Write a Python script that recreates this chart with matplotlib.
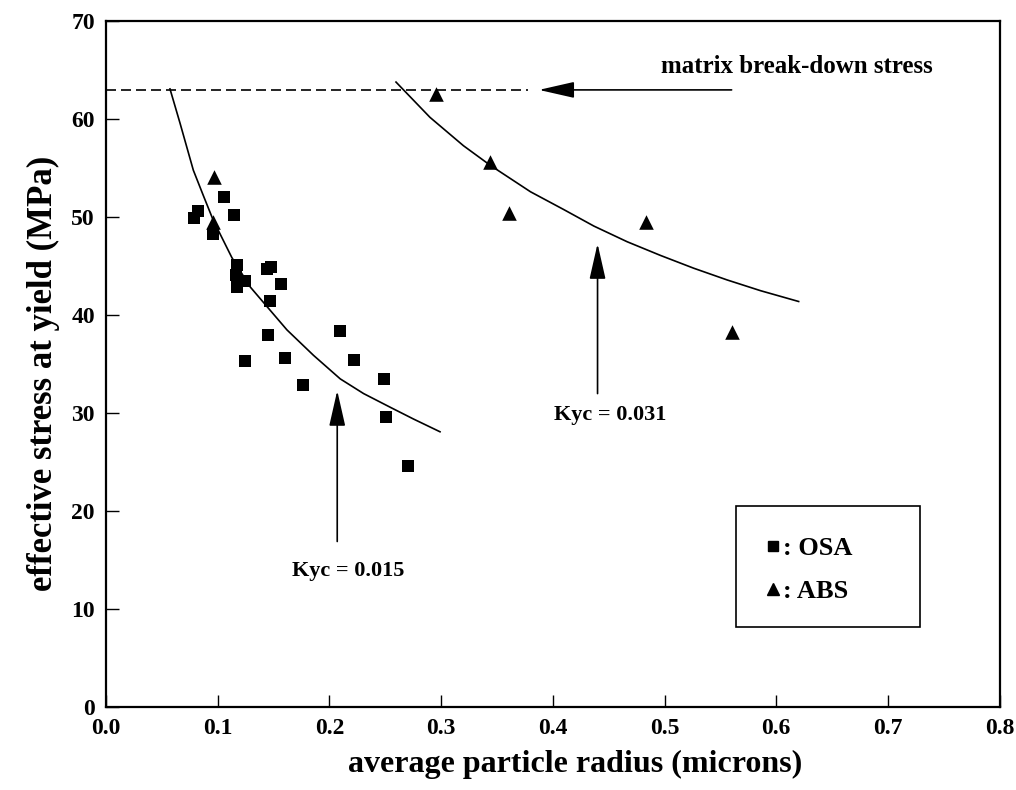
"""Effective yield stress against average rubber particle radius for OSA and ABS blends."""

import matplotlib

matplotlib.use("Agg")
import matplotlib.pyplot as plt
from matplotlib.lines import Line2D
from matplotlib.patches import Rectangle

plt.rcParams["font.family"] = ["Liberation Serif", "DejaVu Serif"]
plt.rcParams["font.weight"] = "bold"
plt.rcParams["axes.labelweight"] = "bold"

# OSA blends (square markers)
osa_radius = [0.1057, 0.1147, 0.079, 0.0824, 0.0956, 0.117, 0.117, 0.124, 0.1165,
              0.144, 0.1475, 0.1568, 0.147, 0.1446, 0.124, 0.1598, 0.1768,
              0.2097, 0.2222, 0.2485, 0.2505, 0.2703]
osa_stress = [52.1, 50.2, 49.9, 50.6, 48.3, 45.1, 42.9, 43.5, 44.1,
              44.7, 44.9, 43.2, 41.5, 38.0, 35.3, 35.6, 32.9,
              38.4, 35.4, 33.5, 29.6, 24.6]

# ABS blends (triangle markers)
abs_radius = [0.097, 0.096, 0.295, 0.344, 0.3605, 0.483, 0.5607]
abs_stress = [54.1, 49.5, 62.6, 55.6, 50.4, 49.5, 38.3]

# theoretical curves for the two craze toughness values
kyc_low = 0.015
curve_low_radius = [0.0573, 0.0663, 0.0782, 0.0872, 0.096, 0.1126, 0.129, 0.147,
                    0.162, 0.1858, 0.2097, 0.2306, 0.2545, 0.2753, 0.299]
curve_low_stress = [63.1, 59.6, 54.8, 52.2, 49.7, 45.9, 42.9, 40.5,
                    38.5, 35.9, 33.5, 32.0, 30.6, 29.4, 28.1]

kyc_high = 0.031
curve_high_radius = [0.2596, 0.290, 0.320, 0.344, 0.380, 0.4095, 0.4367, 0.4665,
                     0.4964, 0.526, 0.556, 0.586, 0.620]
curve_high_stress = [63.8, 60.2, 57.3, 55.3, 52.6, 50.8, 49.1, 47.5,
                     46.1, 44.8, 43.6, 42.5, 41.4]

matrix_breakdown = 63.0

x_ticks = [0.0, 0.1, 0.2, 0.3, 0.4, 0.5, 0.6, 0.7, 0.8]
y_ticks = [0, 10, 20, 30, 40, 50, 60, 70]


def main() -> None:
    fig = plt.figure(figsize=(10.16, 7.9), dpi=100)
    ax = fig.add_axes([0.1043, 0.105, 0.8797, 0.868])

    ax.plot(curve_low_radius, curve_low_stress, color="black", lw=1.2)
    ax.plot(curve_high_radius, curve_high_stress, color="black", lw=1.2)

    ax.scatter(osa_radius, osa_stress, marker="s", s=85, color="black", linewidths=0)
    ax.scatter(abs_radius, abs_stress, marker="^", s=110, color="black", linewidths=0)

    # matrix break-down stress level and its label arrow
    ax.hlines(matrix_breakdown, 0.0, 0.378, colors="black", lw=1.2, linestyles=(0, (6, 3)))
    arrow_kw = dict(arrowstyle="-|>,head_length=1.1,head_width=0.25",
                    color="black", lw=1.2, mutation_scale=20, shrinkA=0, shrinkB=0)
    ax.annotate("", xy=(0.3875, matrix_breakdown), xytext=(0.560, matrix_breakdown),
                arrowprops=arrow_kw)
    ax.text(0.618, 65.4, "matrix break-down stress", ha="center", va="center", fontsize=18)

    ax.annotate("", xy=(0.207, 32.3), xytext=(0.207, 16.9), arrowprops=arrow_kw)
    ax.text(0.217, 13.9, f"Kyc = {kyc_low}", ha="center", va="center", fontsize=16)

    ax.annotate("", xy=(0.440, 47.3), xytext=(0.440, 32.0), arrowprops=arrow_kw)
    ax.text(0.451, 29.8, f"Kyc = {kyc_high}", ha="center", va="center", fontsize=16)

    # legend with a plain rectangular frame
    ax.add_patch(Rectangle((0.5636, 8.2), 0.1653, 12.3, fill=False,
                           edgecolor="black", lw=1.2))
    handles = [
        Line2D([], [], marker="s", ls="none", color="black", markersize=7),
        Line2D([], [], marker="^", ls="none", color="black", markersize=8),
    ]
    ax.legend(handles, [": OSA", ": ABS"], loc="center left",
              bbox_to_anchor=(0.569, 14.0), bbox_transform=ax.transData,
              frameon=False, handlelength=0.6, handletextpad=0.05,
              labelspacing=0.75, prop={"size": 19, "weight": "bold"})

    ax.set_xlim(0, 0.8)
    ax.set_ylim(0, 70)
    ax.set_xticks(x_ticks)
    ax.set_xticklabels([f"{t:.1f}" for t in x_ticks])
    ax.set_yticks(y_ticks)
    ax.tick_params(direction="in", length=9, width=1.0, labelsize=17, pad=8,
                   top=False, right=False)
    for spine in ax.spines.values():
        spine.set_linewidth(1.6)

    ax.set_xlabel("average particle radius (microns)", fontsize=23, labelpad=8, x=0.525)
    ax.set_ylabel("effective stress at yield (MPa)", fontsize=25, labelpad=8, y=0.487)

    fig.savefig("out.png", dpi=100)
    plt.close(fig)


if __name__ == "__main__":
    main()
